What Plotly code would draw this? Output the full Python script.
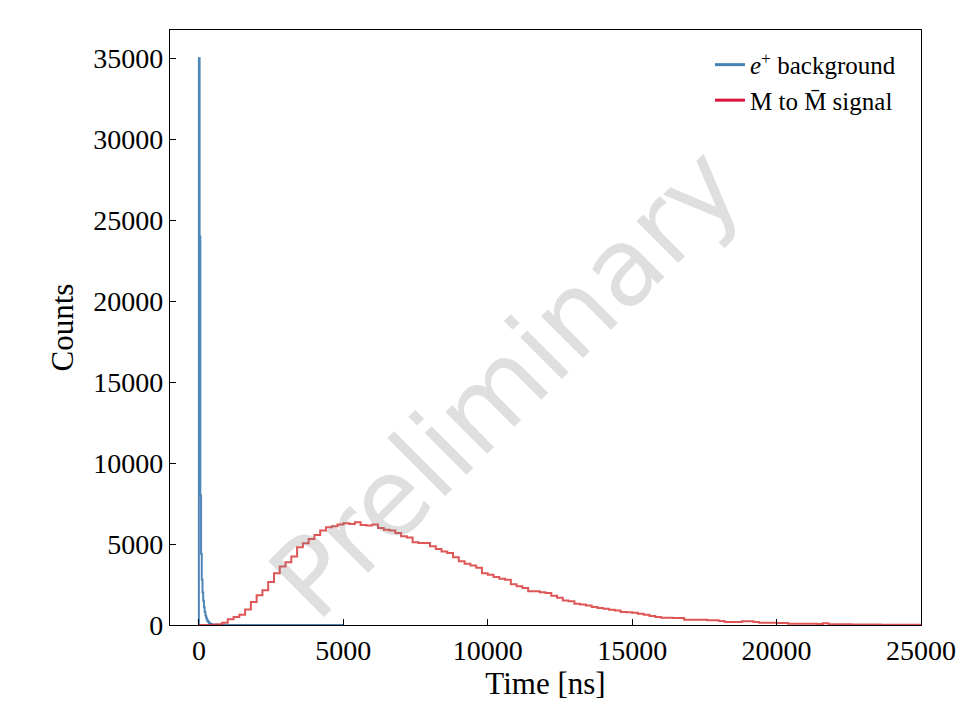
import numpy as np
import plotly.graph_objects as go

# ---------------- data ----------------
# e+ background: 25 ns bins from 0 to 5000 ns
bkg_bin_width = 25
bkg_range = (0, 5000)
bkg_counts_head = [35000, 24000, 8000, 4400, 2800, 2000, 1500, 1100, 800, 600,
                   450, 330, 250, 185, 130, 95, 70, 50, 35, 25,
                   18, 12, 8, 5, 3, 2, 1, 1]
bkg_counts = bkg_counts_head + [0] * (200 - len(bkg_counts_head))

# M to Mbar signal: 200 ns bins from 0 to 25000 ns
sig_bin_width = 200
sig_range = (0, 25000)
sig_counts = [
    0, 0, 10, 40, 140, 350, 500, 630, 960, 1420,
    1830, 2140, 2650, 3200, 3610, 3880, 4230, 4800, 5050, 5310,
    5560, 5830, 6030, 6100, 6200, 6280, 6240, 6340, 6180, 6140,
    6200, 5990, 5890, 5830, 5690, 5480, 5400, 5110, 5070, 5070,
    4860, 4700, 4540, 4450, 4190, 3940, 3780, 3680, 3530, 3200,
    3100, 2960, 2850, 2790, 2510, 2400, 2280, 2090, 2090, 2030,
    1970, 1810, 1680, 1520, 1460, 1310, 1270, 1210, 1110, 1050,
    1000, 940, 900, 800, 780, 760, 700, 640, 550, 490,
    450, 450, 430, 430, 330, 330, 330, 330, 290, 290,
    250, 185, 185, 185, 225, 225, 185, 140, 140, 140,
    120, 120, 80, 80, 80, 80, 70, 60, 110, 50,
    40, 40, 40, 35, 35, 30, 30, 25, 20, 20,
    15, 15, 10, 10, 10,
]

x_ticks = [0, 5000, 10000, 15000, 20000, 25000]
y_ticks = [0, 5000, 10000, 15000, 20000, 25000, 30000, 35000]
x_range = [-1000, 25000]
y_range = [0, 36750]

bkg_label = "<i>e</i><sup>+</sup> background"
sig_label = "M to M\u0304 signal"


def step_outline(counts, lo, width):
    edges = np.arange(lo, lo + width * (len(counts) + 1), width)[: len(counts) + 1]
    xs = [edges[0]] + list(edges)
    ys = [0] + list(counts) + [0]
    return xs, ys


serif = "Liberation Serif, Times New Roman, serif"

fig = go.Figure()

bx, by = step_outline(bkg_counts, bkg_range[0], bkg_bin_width)
sx, sy = step_outline(sig_counts, sig_range[0], sig_bin_width)

fig.add_trace(go.Scatter(x=bx, y=by, mode="lines", line_shape="hv",
                         line=dict(color="rgba(70,130,180,0.95)", width=2),
                         showlegend=False, hoverinfo="skip"))
fig.add_trace(go.Scatter(x=sx, y=sy, mode="lines", line_shape="hv",
                         line=dict(color="rgba(214,39,40,0.78)", width=2),
                         showlegend=False, hoverinfo="skip"))

# legend handles (full colour)
fig.add_trace(go.Scatter(x=[None], y=[None], mode="lines", name=bkg_label,
                         line=dict(color="steelblue", width=3)))
fig.add_trace(go.Scatter(x=[None], y=[None], mode="lines", name=sig_label,
                         line=dict(color="crimson", width=3)))

fig.add_annotation(text="Preliminary", xref="paper", yref="paper",
                   x=0.447, y=0.407, showarrow=False, textangle=-45,
                   font=dict(family="DejaVu Sans", size=108,
                             color="rgba(120,120,120,0.24)"))

axis_common = dict(showline=True, linecolor="black", linewidth=1.3, mirror=True,
                   ticks="inside", ticklen=6, tickwidth=1.3, tickcolor="black",
                   showgrid=False, zeroline=False,
                   tickfont=dict(family=serif, size=28, color="black"),
                   tickformat="d")

fig.update_xaxes(range=x_range, tickvals=x_ticks, **axis_common,
                 title=dict(text="Time [ns]", font=dict(family=serif, size=31, color="black"),
                            standoff=4))
fig.update_yaxes(range=y_range, tickvals=y_ticks, **axis_common,
                 title=dict(text="Counts", font=dict(family=serif, size=31, color="black"),
                            standoff=10))

fig.update_layout(
    width=973, height=703,
    margin=dict(l=170, r=52, t=30, b=75),
    plot_bgcolor="white", paper_bgcolor="white",
    legend=dict(x=0.719, y=0.98, xanchor="left", yanchor="top",
                bgcolor="rgba(0,0,0,0)",
                font=dict(family=serif, size=25, color="black")),
)

fig.write_html("out.html")
